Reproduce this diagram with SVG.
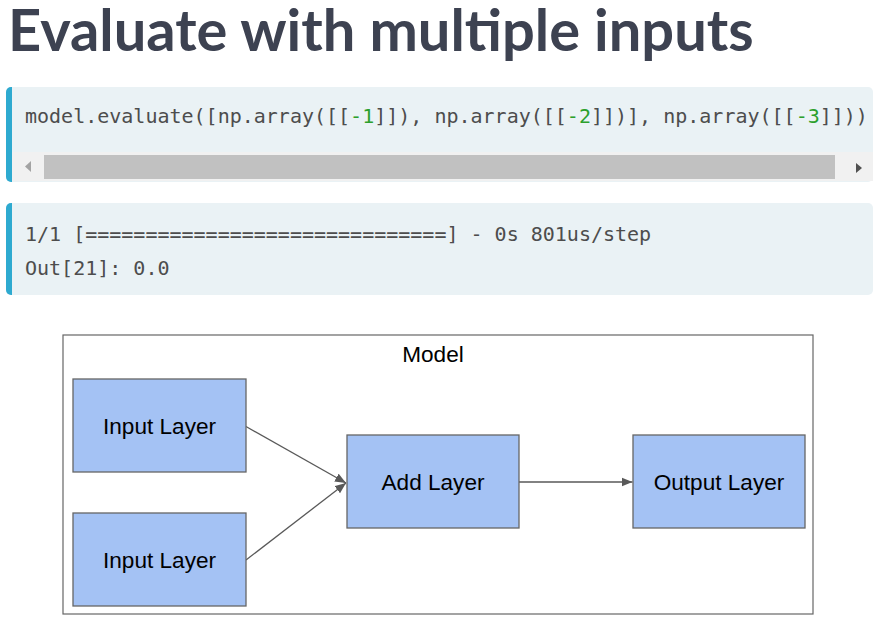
<svg xmlns="http://www.w3.org/2000/svg" width="886" height="620" viewBox="0 0 886 620">
<style>
.title{font-family:Lato,"Open Sans",sans-serif;font-weight:700;font-size:57.8px;fill:#3d4251}
.code{font-family:"DejaVu Sans Mono","Liberation Mono",monospace;font-size:20px;fill:#4d4d4d}
.num{fill:#2ca02c}
.blockbg{fill:#eaf2f5}
.bar{fill:#2eaad0}
.node rect{fill:#a4c2f4;stroke:#666666;stroke-width:1.3}
.lbl{font-family:"Liberation Sans",Arial,sans-serif;font-size:22.6px;fill:#000;text-anchor:middle}
.conn{stroke:#595959;stroke-width:1.3;fill:none;marker-end:url(#ah)}
</style>
<defs>
<marker id="ah" markerWidth="12" markerHeight="10" refX="11" refY="5" orient="auto" markerUnits="userSpaceOnUse">
<path d="M0,0.5 L11,5 L0,9.5 Z" fill="#595959"/>
</marker>
</defs>
<rect width="886" height="620" fill="#ffffff"/>
<text class="title" x="8" y="51">Evaluate with multiple inputs</text>

<g id="code-input">
<rect class="blockbg" x="6" y="87" width="867" height="95" rx="5"/>
<rect x="12" y="152" width="861" height="29" fill="#f1f1f1"/>
<rect x="44" y="155" width="791" height="24" fill="#c1c1c1"/>
<path d="M25,166.5 L31,161 L31,172 Z" fill="#a3a3a3"/>
<path d="M856,163 L862,168 L856,173 Z" fill="#505050"/>
<path d="M11,87 A5,5 0 0 0 6,92 L6,177 A5,5 0 0 0 11,182 L12,182 L12,87 Z" class="bar"/>
<text class="code" x="25" y="123" xml:space="preserve">model.evaluate([np.array([[<tspan class="num">-1</tspan>]]), np.array([[<tspan class="num">-2</tspan>]])], np.array([[<tspan class="num">-3</tspan>]]))</text>
</g>

<g id="code-output">
<rect class="blockbg" x="6" y="203" width="867" height="92" rx="5"/>
<path d="M11,203 A5,5 0 0 0 6,208 L6,290 A5,5 0 0 0 11,295 L12,295 L12,203 Z" class="bar"/>
<text class="code" x="25" y="241" xml:space="preserve">1/1 [==============================] - 0s 801us/step</text>
<text class="code" x="25" y="275">Out[21]: 0.0</text>
</g>

<g id="model">
<rect x="63" y="335" width="750" height="279" fill="#ffffff" stroke="#666666" stroke-width="1.2"/>
<text class="lbl" x="433" y="362">Model</text>
</g>

<g id="connectors">
<line class="conn" x1="246" y1="426.5" x2="346" y2="483"/>
<line class="conn" x1="246" y1="560" x2="346" y2="483"/>
<line class="conn" x1="519" y1="482" x2="632.5" y2="482"/>
</g>

<g id="input1" class="node">
<rect x="73" y="379" width="173" height="93"/>
<text class="lbl" x="159.5" y="434">Input Layer</text>
</g>
<g id="input2" class="node">
<rect x="73" y="513" width="173" height="93"/>
<text class="lbl" x="159.5" y="568">Input Layer</text>
</g>
<g id="add" class="node">
<rect x="347" y="435" width="172" height="93"/>
<text class="lbl" x="433" y="490">Add Layer</text>
</g>
<g id="output" class="node">
<rect x="633" y="435" width="172" height="93"/>
<text class="lbl" x="719" y="490">Output Layer</text>
</g>
</svg>
